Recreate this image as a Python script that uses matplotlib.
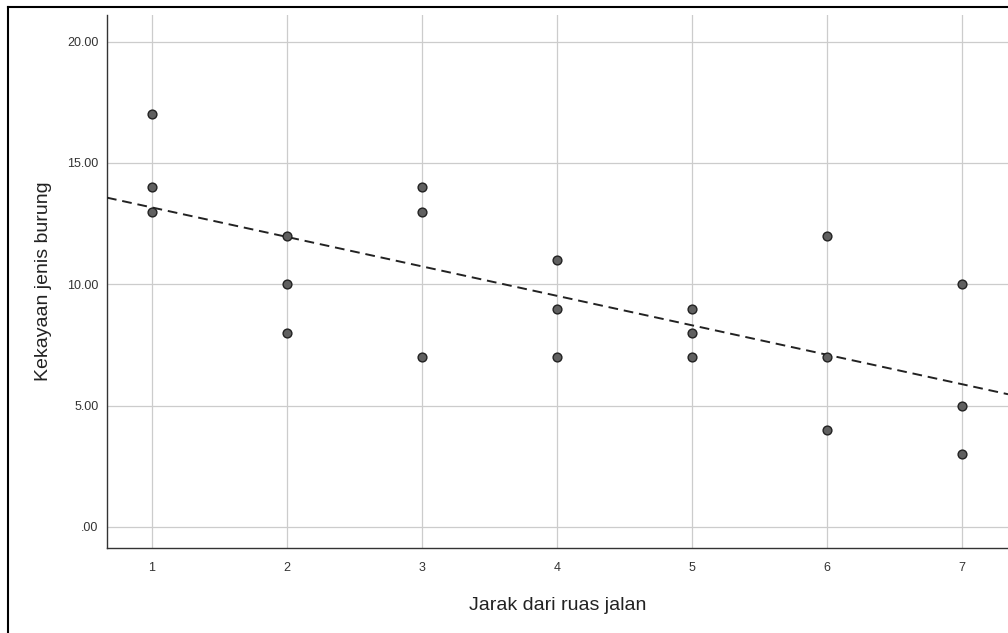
import numpy as np
import matplotlib
matplotlib.use("Agg")
import matplotlib.pyplot as plt
from matplotlib.lines import Line2D

plt.rcParams['font.family'] = ['Liberation Sans', 'DejaVu Sans']

# Data
jarak = [1, 1, 1, 2, 2, 2, 3, 3, 3, 4, 4, 4, 5, 5, 5, 6, 6, 6, 7, 7, 7]
kekayaan = [17, 14, 13, 12, 10, 8, 14, 13, 7, 11, 9, 7, 9, 8, 7, 12, 7, 4, 10, 5, 3]
x_ticks = [1, 2, 3, 4, 5, 6, 7]
x_tick_labels = ["1", "2", "3", "4", "5", "6", "7"]
y_ticks = [0, 5, 10, 15, 20]
y_tick_labels = [".00", "5.00", "10.00", "15.00", "20.00"]

W, H = 1008, 633
fig = plt.figure(figsize=(W / 100, H / 100), dpi=100)
left, right, top, bottom = 107, 1008, 15, 548
ax = fig.add_axes([left / W, 1 - bottom / H, (right - left) / W, (bottom - top) / H])

xlim = (0.667, 7.34)
ylim = (-0.87, 21.1)
ax.set_xlim(*xlim)
ax.set_ylim(*ylim)

ax.set_xticks(x_ticks)
ax.set_xticklabels(x_tick_labels, fontsize=9, color='#333333')
ax.set_yticks(y_ticks)
ax.set_yticklabels(y_tick_labels, fontsize=9, color='#333333')
ax.tick_params(axis='x', length=0, pad=10)
ax.tick_params(axis='y', length=0, pad=6)

ax.grid(True, color='#cccccc', linewidth=0.9)
ax.set_axisbelow(True)
for s in ['top', 'right']:
    ax.spines[s].set_visible(False)
for s in ['left', 'bottom']:
    ax.spines[s].set_color('#333333')
    ax.spines[s].set_linewidth(1.0)

# regression line
coef = np.polyfit(jarak, kekayaan, 1)
xs = np.array(xlim)
ax.plot(xs, np.polyval(coef, xs), linestyle=(0, (5, 3)), color='#222222', linewidth=1.4, zorder=3)

ax.scatter(jarak, kekayaan, s=40, facecolor='#606060', edgecolor='#222222', linewidth=1.0, zorder=4)

ax.set_xlabel("Jarak dari ruas jalan", fontsize=14, color='#222222')
ax.set_ylabel("Kekayaan jenis burung", fontsize=14, color='#222222')
# place labels at pixel positions
ax.xaxis.set_label_coords(0.5, -(605 - bottom) / (bottom - top))
ax.xaxis.label.set_va('center')
ax.yaxis.set_label_coords(-(left - 44) / (right - left), 0.5)
ax.yaxis.label.set_va('center')

# outer frame lines (top and left)
fig.add_artist(Line2D([8 / W, 1], [1 - 7 / H, 1 - 7 / H], color='black', linewidth=1.5, transform=fig.transFigure))
fig.add_artist(Line2D([8 / W, 8 / W], [0, 1 - 7 / H], color='black', linewidth=1.5, transform=fig.transFigure))

fig.savefig("out.png", dpi=100)
